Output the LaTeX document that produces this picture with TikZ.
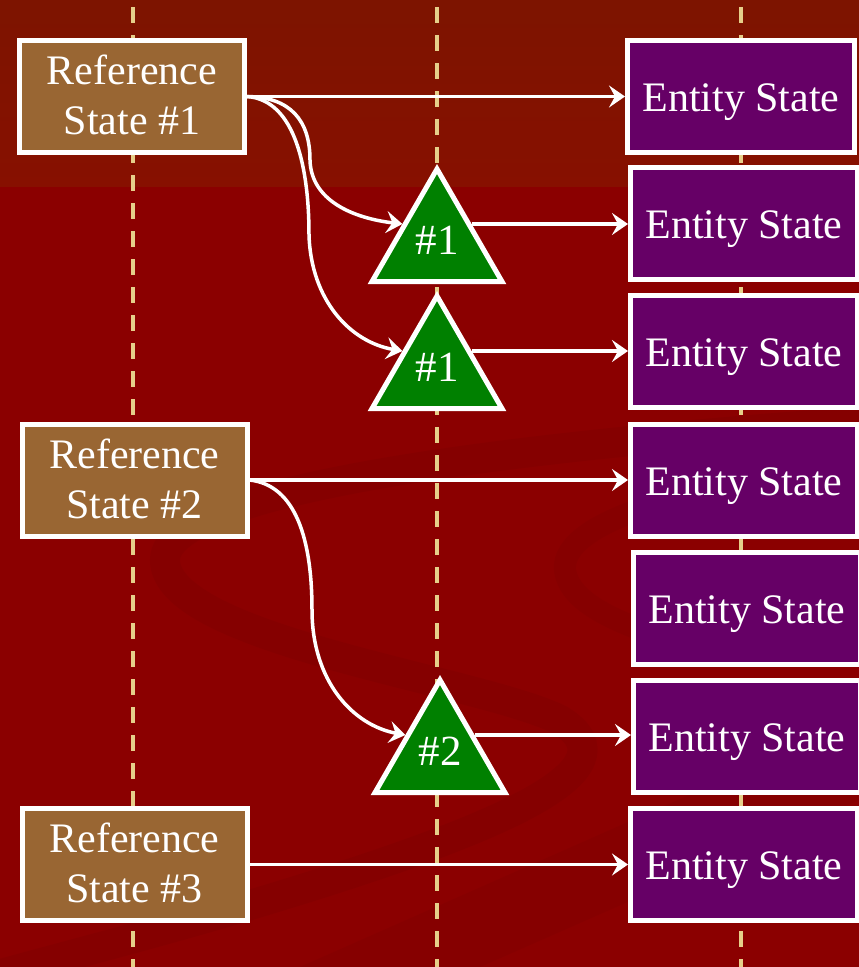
\documentclass[tikz,border=0pt]{standalone}
\usepackage{fontspec}
\setmainfont{Liberation Serif}
\usetikzlibrary{shapes.geometric,arrows.meta}
\definecolor{bgred}{HTML}{8B0000}
\definecolor{bgtop}{HTML}{7D1400}
\definecolor{bgtopb}{HTML}{871000}
\definecolor{swirl}{HTML}{780000}
\definecolor{refbrown}{HTML}{996633}
\definecolor{entpurple}{HTML}{660066}
\definecolor{trigreen}{HTML}{008000}
\definecolor{guide}{HTML}{E6CF8A}
\newcommand\lowtext[2]{\raisebox{-#1}[\height][\depth]{#2}}
\newcommand\twolines[2]{\begin{tabular}{@{}c@{}}#1\\#2\end{tabular}}
\tikzset{
  refbox/.style={draw=white, line width=5pt, fill=refbrown, minimum width=225pt, minimum height=112pt,
    inner sep=0pt, text=white, font=\fontsize{42}{50}\selectfont},
  entbox/.style={draw=white, line width=5pt, fill=entpurple, minimum width=227pt, minimum height=112pt,
    inner sep=0pt, text=white, font=\fontsize{42}{50}\selectfont},
  tri/.style={regular polygon, regular polygon sides=3, draw=white, line width=5pt, fill=trigreen,
    minimum size=150pt, inner sep=0pt, text=white, font=\fontsize{43}{50}\selectfont},
  guideline/.style={draw=guide, line width=4pt, dash pattern=on 16pt off 12pt, dash phase=21pt},
  conn/.style={draw=white, line width=3.5pt, -{Stealth[length=16pt,width=22pt,inset=6pt]}},
}
\begin{document}
\begin{tikzpicture}[x=1pt,y=-1pt]
\useasboundingbox (0,0) rectangle (859,967);
% background
\fill[bgred] (0,0) rectangle (859,967);
\shade[top color=bgtop, bottom color=bgtopb] (0,0) rectangle (859,186);
\begin{scope}
\clip (0,186) rectangle (859,967);
\draw[swirl, opacity=0.3, line width=30pt, line cap=round]
  (880,420) .. controls (600,440) and (165,480) .. (165,560)
  .. controls (165,640) and (480,680) .. (560,720)
  .. controls (640,770) and (500,830) .. (250,905)
  .. controls (150,935) and (50,960) .. (-20,980);
\draw[swirl, opacity=0.25, line width=22pt]
  (880,470) .. controls (700,480) and (560,520) .. (565,570)
  .. controls (570,610) and (640,630) .. (700,650);
\fill[swirl, opacity=0.25] (300,967) -- (859,720) -- (859,800) -- (480,967) -- cycle;
\end{scope}
% guide lines
\draw[guideline] (133,0) -- (133,967);
\draw[guideline] (437,0) -- (437,967);
\draw[guideline] (741,0) -- (741,967);
% reference states
\node[refbox] (R1) at (132,96.5) {\lowtext{3pt}{\twolines{Reference}{State \#1}}};
\node[refbox] (R2) at (134.5,480) {\lowtext{3pt}{\twolines{Reference}{State \#2}}};
\node[refbox] (R3) at (134.5,864.5) {\lowtext{3pt}{\twolines{Reference}{State \#3}}};
% entity states
\node[entbox] (E1) at (741,96.5) {\lowtext{6pt}{Entity State}};
\node[entbox] (E2) at (744,223) {\lowtext{6pt}{Entity State}};
\node[entbox] (E3) at (744,351) {\lowtext{6pt}{Entity State}};
\node[entbox] (E4) at (744,480) {\lowtext{6pt}{Entity State}};
\node[entbox] (E5) at (747,608) {\lowtext{6pt}{Entity State}};
\node[entbox] (E6) at (747,736) {\lowtext{6pt}{Entity State}};
\node[entbox] (E7) at (744,864.5) {\lowtext{6pt}{Entity State}};
% triangles
\node[tri] (T1) at (437,244) {\lowtext{-4pt}{\#1}};
\node[tri] (T2) at (437,371) {\lowtext{-4pt}{\#1}};
\node[tri] (T3) at (440,755) {\lowtext{-4pt}{\#2}};
% connectors
\coordinate (r1o) at (R1.east);
\coordinate (r2o) at (R2.east);
\draw[conn] (r1o) -- (r1o -| E1.west);
\draw[conn] (r1o) .. controls (290,97) and (310,120) .. (310,160)
  .. controls (311,200) and (352,218) .. (T1.side 1);
\draw[conn] (r1o) .. controls (296,100) and (309,170) .. (309,235)
  .. controls (311,300) and (350,342) .. (T2.side 1);
\draw[conn] (T1.side 3) -- (T1.side 3 -| E2.west);
\draw[conn] (T2.side 3) -- (T2.side 3 -| E3.west);
\draw[conn] (r2o) -- (r2o -| E4.west);
\draw[conn] (r2o) .. controls (296,485) and (312,540) .. (312,610)
  .. controls (312,680) and (352,725) .. (T3.side 1);
\draw[conn] (T3.side 3) -- (T3.side 3 -| E6.west);
\draw[conn] (R3.east) -- (R3.east -| E7.west);
\end{tikzpicture}
\end{document}
